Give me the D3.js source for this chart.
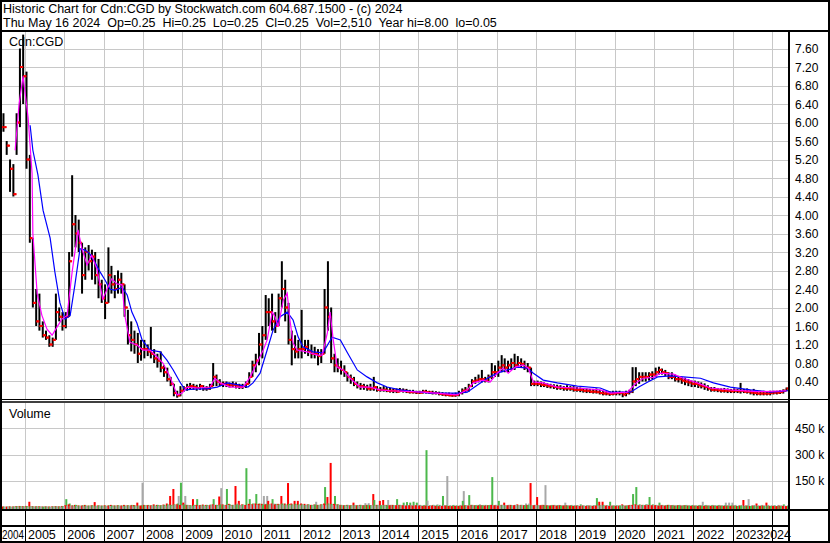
<!DOCTYPE html>
<html>
<head>
<meta charset="utf-8">
<script src="https://cdn.jsdelivr.net/npm/d3@7"></script>
<style>
  body { margin: 0; background: #fff; }
  svg { display: block; font-family: Arial, "Liberation Sans", sans-serif; }
</style>
</head>
<body>
<script>
// monthly bars, first one is June 2004, last one is May 2024
const firstMonth = [2004, 5];

const highs = [
  6.2, 5.6, 5.2, 5.1, 6.2, 7.6, 7.9,                                // 2004
  7.1, 5.3, 3.5, 2.4, 2.3, 1.7, 1.5, 1.4, 1.35, 2.3, 2.0, 1.9,        // 2005
  1.9, 3.2, 4.86, 4.0, 3.9, 3.4, 3.3, 3.35, 3.25, 3.2, 3.05, 2.6,     // 2006
  2.5, 3.3, 2.9, 2.7, 2.8, 2.75, 2.5, 1.95, 1.7, 1.5, 1.45, 1.3,      // 2007
  1.3, 1.2, 1.58, 1.1, 1.0, 1.05, 0.75, 0.7, 0.5, 0.35, 0.2, 0.3,     // 2008
  0.3, 0.35, 0.37, 0.35, 0.33, 0.35, 0.32, 0.3, 0.35, 0.8, 0.55, 0.45,// 2009
  0.4, 0.4, 0.38, 0.4, 0.38, 0.35, 0.35, 0.4, 0.6, 0.85, 1.0, 1.45,   // 2010
  1.6, 2.27, 2.2, 2.3, 1.9, 2.3, 3.0, 2.6, 2.1, 1.5, 1.4, 1.3,        // 2011
  1.95, 1.3, 1.3, 1.2, 1.15, 1.1, 1.1, 2.4, 3.0, 2.0, 1.0, 0.9,       // 2012
  0.85, 0.75, 0.6, 0.55, 0.5, 0.4, 0.37, 0.35, 0.33, 0.35, 0.5, 0.3,  // 2013
  0.28, 0.3, 0.28, 0.26, 0.25, 0.25, 0.26, 0.25, 0.24, 0.22, 0.22, 0.2, // 2014
  0.2, 0.22, 0.22, 0.2, 0.2, 0.19, 0.18, 0.17, 0.16, 0.16, 0.15, 0.16,  // 2015
  0.2, 0.25, 0.28, 0.35, 0.45, 0.5, 0.55, 0.65, 0.5, 0.55, 0.8, 0.75,   // 2016
  0.85, 0.97, 0.9, 0.85, 0.9, 1.0, 0.95, 0.9, 0.85, 0.8, 0.7, 0.42,     // 2017
  0.42, 0.4, 0.38, 0.36, 0.35, 0.34, 0.33, 0.32, 0.3, 0.32, 0.3, 0.3,   // 2018
  0.28, 0.27, 0.26, 0.25, 0.24, 0.24, 0.25, 0.22, 0.2, 0.2, 0.19, 0.2,  // 2019
  0.2, 0.2, 0.18, 0.2, 0.22, 0.71, 0.71, 0.6, 0.6, 0.6, 0.6, 0.62,      // 2020
  0.7, 0.72, 0.68, 0.65, 0.6, 0.6, 0.55, 0.52, 0.5, 0.48, 0.45, 0.42,   // 2021
  0.42, 0.4, 0.38, 0.36, 0.32, 0.28, 0.28, 0.26, 0.25, 0.26, 0.25, 0.24,// 2022
  0.25, 0.24, 0.37, 0.24, 0.25, 0.22, 0.24, 0.2, 0.2, 0.2, 0.19, 0.2,   // 2023
  0.2, 0.2, 0.21, 0.23, 0.27                                            // 2024
];

const lows = [
  5.8, 5.3, 4.5, 4.4, 5.3, 5.9, 6.4,
  5.0, 3.4, 2.0, 1.6, 1.5, 1.35, 1.3, 1.15, 1.15, 1.3, 1.7, 1.5,
  1.55, 1.8, 3.1, 3.3, 3.2, 2.3, 2.6, 2.8, 2.6, 2.5, 2.2, 2.1,
  1.75, 2.1, 2.3, 2.2, 2.3, 2.3, 1.8, 1.2, 1.05, 1.0, 0.8, 0.85,
  0.9, 0.95, 0.9, 0.8, 0.7, 0.6, 0.5, 0.4, 0.3, 0.08, 0.05, 0.08,
  0.18, 0.2, 0.22, 0.22, 0.2, 0.22, 0.2, 0.2, 0.22, 0.3, 0.3, 0.3,
  0.28, 0.28, 0.27, 0.28, 0.25, 0.24, 0.24, 0.26, 0.35, 0.5, 0.6, 0.75,
  0.9, 1.3, 1.6, 1.5, 1.45, 1.6, 2.0, 1.7, 1.2, 0.75, 0.9, 0.9,
  0.9, 1.0, 0.95, 0.9, 0.9, 0.75, 0.8, 1.0, 1.5, 0.8, 0.6, 0.6,
  0.55, 0.5, 0.4, 0.35, 0.3, 0.25, 0.22, 0.22, 0.2, 0.2, 0.2, 0.18,
  0.18, 0.18, 0.17, 0.16, 0.15, 0.15, 0.17, 0.16, 0.15, 0.14, 0.14, 0.13,
  0.13, 0.14, 0.14, 0.13, 0.12, 0.12, 0.1, 0.09, 0.08, 0.08, 0.07, 0.07,
  0.08, 0.12, 0.15, 0.18, 0.28, 0.35, 0.38, 0.38, 0.38, 0.38, 0.45, 0.5,
  0.5, 0.6, 0.6, 0.6, 0.65, 0.65, 0.7, 0.7, 0.65, 0.6, 0.3, 0.3,
  0.3, 0.28, 0.28, 0.26, 0.25, 0.24, 0.22, 0.22, 0.2, 0.2, 0.2, 0.18,
  0.18, 0.17, 0.16, 0.15, 0.15, 0.14, 0.14, 0.12, 0.1, 0.1, 0.09, 0.1,
  0.1, 0.1, 0.06, 0.08, 0.12, 0.15, 0.3, 0.35, 0.4, 0.4, 0.42, 0.45,
  0.5, 0.55, 0.55, 0.52, 0.45, 0.45, 0.4, 0.38, 0.35, 0.32, 0.3, 0.28,
  0.28, 0.26, 0.25, 0.22, 0.2, 0.18, 0.18, 0.17, 0.16, 0.16, 0.15, 0.15,
  0.15, 0.15, 0.14, 0.15, 0.14, 0.12, 0.1, 0.1, 0.1, 0.1, 0.1, 0.1,
  0.12, 0.12, 0.13, 0.14, 0.2
];

const closes = [
  5.9, 5.5, 5.0, 4.45, 6.0, 7.2, 7.0,
  5.2, 3.5, 2.1, 1.7, 1.6, 1.4, 1.35, 1.2, 1.3, 1.9, 1.8, 1.6,
  1.8, 3.0, 3.8, 3.6, 3.4, 2.7, 3.2, 3.0, 3.1, 2.7, 2.5, 2.2,
  2.1, 2.7, 2.5, 2.4, 2.6, 2.5, 2.0, 1.4, 1.3, 1.2, 1.0, 1.1,
  1.1, 1.05, 1.0, 0.9, 0.85, 0.7, 0.6, 0.45, 0.35, 0.15, 0.1, 0.2,
  0.25, 0.28, 0.3, 0.28, 0.26, 0.3, 0.25, 0.25, 0.3, 0.5, 0.4, 0.35,
  0.35, 0.33, 0.32, 0.33, 0.3, 0.28, 0.3, 0.35, 0.5, 0.75, 0.85, 1.2,
  1.4, 1.9, 1.9, 1.7, 1.6, 2.2, 2.4, 2.0, 1.3, 1.1, 1.05, 1.1,
  1.1, 1.15, 1.05, 1.0, 1.0, 0.95, 1.0, 2.0, 1.8, 0.9, 0.75, 0.7,
  0.65, 0.6, 0.5, 0.45, 0.35, 0.3, 0.3, 0.28, 0.25, 0.25, 0.28, 0.22,
  0.22, 0.22, 0.2, 0.2, 0.2, 0.18, 0.2, 0.2, 0.18, 0.17, 0.17, 0.16,
  0.16, 0.18, 0.17, 0.16, 0.15, 0.15, 0.13, 0.12, 0.11, 0.1, 0.1, 0.11,
  0.15, 0.2, 0.22, 0.3, 0.4, 0.42, 0.45, 0.45, 0.42, 0.5, 0.6, 0.6,
  0.7, 0.75, 0.7, 0.75, 0.8, 0.75, 0.8, 0.78, 0.7, 0.7, 0.35, 0.35,
  0.35, 0.33, 0.32, 0.3, 0.3, 0.28, 0.27, 0.26, 0.25, 0.25, 0.24, 0.22,
  0.22, 0.22, 0.2, 0.2, 0.18, 0.18, 0.17, 0.15, 0.14, 0.14, 0.13, 0.14,
  0.15, 0.15, 0.12, 0.15, 0.18, 0.4, 0.45, 0.5, 0.5, 0.5, 0.55, 0.55,
  0.6, 0.65, 0.6, 0.58, 0.5, 0.5, 0.45, 0.45, 0.42, 0.4, 0.38, 0.35,
  0.35, 0.32, 0.3, 0.28, 0.25, 0.22, 0.22, 0.21, 0.2, 0.2, 0.2, 0.19,
  0.2, 0.19, 0.2, 0.18, 0.18, 0.16, 0.15, 0.14, 0.14, 0.14, 0.14, 0.15,
  0.16, 0.16, 0.17, 0.2, 0.25
];

// volume in thousands, split by day type (down / up / unchanged)
const volDown = [
  3, 2, 4, 3, 5, 6, 5,
  6, 30, 5, 4, 4, 3, 4, 3, 4, 5, 4, 6,
  10, 15, 8, 12, 9, 8, 12, 8, 10, 28, 9, 8,
  10, 8, 12, 9, 10, 8, 12, 10, 9, 11, 25, 8,
  12, 10, 9, 15, 12, 10, 14, 20, 63, 103, 15, 12,
  25, 12, 10, 45, 12, 10, 14, 12, 10, 15, 12, 60,
  15, 12, 18, 12, 120, 35, 15, 12, 18, 15, 20, 18,
  18, 15, 35, 20, 15, 18, 63, 20, 137, 20, 35, 35,
  20, 18, 15, 12, 14, 12, 15, 20, 57, 252, 18, 15,
  12, 10, 12, 10, 25, 10, 12, 10, 12, 10, 74, 12,
  35, 40, 12, 10, 12, 10, 12, 10, 8, 10, 8, 10,
  8, 6, 8, 6, 8, 6, 5, 6, 8, 6, 5, 6,
  6, 8, 10, 8, 12, 10, 8, 10, 8, 10, 12, 10,
  8, 12, 25, 10, 12, 10, 15, 12, 10, 12, 137, 10,
  57, 10, 12, 10, 8, 10, 8, 10, 8, 10, 8, 6,
  8, 6, 8, 6, 8, 6, 8, 30, 30, 8, 6, 8,
  6, 8, 15, 8, 10, 12, 15, 10, 12, 10, 12, 10,
  10, 8, 10, 8, 12, 10, 8, 10, 8, 10, 8, 6,
  8, 6, 8, 6, 8, 6, 8, 6, 8, 6, 8, 6,
  8, 6, 8, 40, 8, 6, 8, 20, 6, 8, 25, 6,
  6, 5, 8, 6, 5
];

const volUp = [
  2, 3, 2, 3, 4, 5, 4,
  5, 4, 3, 4, 3, 2, 3, 2, 3, 4, 3, 5,
  45, 20, 10, 12, 8, 10, 9, 8, 10, 8, 9, 8,
  8, 10, 9, 8, 10, 9, 8, 10, 12, 9, 8, 10,
  10, 12, 10, 9, 12, 10, 12, 15, 12, 15, 20, 139,
  15, 12, 10, 12, 45, 12, 10, 12, 14, 45, 12, 15,
  12, 103, 15, 12, 15, 12, 14, 222, 45, 20, 74, 20,
  15, 18, 15, 45, 18, 15, 20, 15, 18, 15, 18, 15,
  15, 12, 15, 12, 14, 12, 15, 114, 20, 18, 63, 15,
  12, 10, 12, 10, 12, 10, 12, 10, 12, 10, 40, 12,
  10, 12, 10, 12, 10, 45, 12, 25, 28, 25, 30, 25,
  12, 10, 325, 10, 12, 10, 12, 63, 10, 8, 10, 8,
  8, 35, 10, 68, 12, 10, 12, 10, 12, 10, 171, 12,
  35, 12, 10, 12, 10, 12, 10, 12, 10, 12, 10, 12,
  10, 12, 10, 8, 10, 12, 10, 8, 10, 8, 10, 8,
  10, 15, 8, 10, 8, 10, 51, 10, 12, 10, 30, 8,
  10, 8, 10, 8, 12, 74, 114, 15, 12, 15, 57, 15,
  12, 25, 12, 10, 12, 10, 8, 10, 8, 10, 8, 10,
  8, 10, 8, 10, 8, 10, 8, 10, 8, 10, 8, 10,
  8, 6, 8, 6, 8, 6, 8, 6, 8, 6, 8, 6,
  8, 6, 5, 15, 6
];

const volFlat = [
  1, 2, 1, 2, 1, 2, 3,
  2, 3, 2, 1, 2, 3, 2, 1, 2, 3, 2, 4,
  5, 6, 4, 5, 6, 4, 5, 6, 4, 5, 6, 4,
  5, 6, 4, 5, 6, 4, 5, 6, 4, 5, 8, 139,
  6, 5, 8, 6, 5, 8, 6, 10, 8, 12, 63, 10,
  63, 8, 6, 8, 6, 8, 6, 8, 10, 12, 8, 108,
  10, 12, 8, 12, 20, 10, 12, 10, 12, 15, 12, 10,
  63, 63, 15, 20, 12, 15, 12, 10, 12, 10, 12, 10,
  12, 10, 12, 10, 30, 10, 12, 10, 15, 12, 10, 12,
  10, 8, 10, 8, 10, 8, 10, 22, 22, 10, 8, 10,
  12, 10, 40, 12, 10, 12, 10, 12, 10, 12, 10, 12,
  10, 12, 36, 10, 12, 15, 10, 12, 177, 10, 12, 10,
  12, 91, 10, 12, 10, 12, 15, 12, 10, 12, 10, 12,
  10, 12, 10, 12, 10, 12, 10, 12, 20, 20, 10, 12,
  10, 12, 125, 10, 12, 10, 12, 10, 25, 10, 12, 10,
  8, 10, 8, 10, 8, 10, 8, 10, 8, 10, 8, 10,
  8, 10, 8, 10, 8, 10, 12, 10, 12, 15, 10, 12,
  10, 12, 10, 12, 10, 12, 10, 12, 10, 12, 10, 12,
  10, 12, 30, 12, 10, 12, 10, 12, 10, 25, 25, 25,
  12, 10, 12, 10, 45, 10, 12, 10, 12, 10, 12, 10,
  10, 12, 10, 8, 10
];

// moving averages: [decimal year, price]
const maShort = [
  [2004.75, 5.4], [2004.85, 6.4], [2004.95, 7.0], [2005.08, 6.1], [2005.18, 4.9],
  [2005.20, 3.6], [2005.31, 2.3], [2005.43, 1.83], [2005.56, 1.53], [2005.69, 1.4],
  [2005.81, 1.57], [2005.94, 1.75], [2006.07, 1.83], [2006.20, 2.77], [2006.35, 3.68],
  [2006.45, 3.27], [2006.58, 2.92], [2006.70, 3.13], [2006.83, 2.83], [2006.98, 2.18],
  [2007.09, 2.4], [2007.21, 2.62], [2007.34, 2.51], [2007.47, 2.49], [2007.54, 1.83],
  [2007.67, 1.25], [2007.85, 1.19], [2008.00, 1.08], [2008.18, 1.08], [2008.36, 0.93],
  [2008.51, 0.8], [2008.69, 0.5], [2008.87, 0.11], [2009.00, 0.15], [2009.12, 0.28],
  [2009.38, 0.26], [2009.71, 0.28], [2009.83, 0.47], [2009.96, 0.37], [2010.22, 0.28],
  [2010.55, 0.28], [2010.73, 0.5], [2010.90, 0.8], [2011.06, 1.08], [2011.16, 1.3],
  [2011.29, 1.9], [2011.36, 1.8], [2011.44, 1.58], [2011.57, 2.16], [2011.67, 2.31],
  [2011.74, 1.73], [2011.82, 1.23], [2011.92, 1.08], [2012.18, 1.04], [2012.43, 0.97],
  [2012.56, 0.97], [2012.69, 1.45], [2012.76, 1.9], [2012.84, 1.3], [2012.94, 0.71],
  [2013.09, 0.65], [2013.27, 0.47], [2013.52, 0.28], [2013.78, 0.28], [2014.03, 0.22],
  [2014.29, 0.2], [2015.13, 0.17], [2015.99, 0.11], [2016.25, 0.22], [2016.40, 0.37],
  [2016.65, 0.43], [2016.83, 0.39], [2017.01, 0.58], [2017.16, 0.69], [2017.29, 0.58],
  [2017.47, 0.71], [2017.67, 0.76], [2017.80, 0.69], [2017.93, 0.39], [2018.18, 0.37],
  [2018.54, 0.28], [2019.05, 0.26], [2019.63, 0.22], [2019.89, 0.15], [2020.32, 0.17],
  [2020.57, 0.39], [2020.73, 0.47], [2020.98, 0.49], [2021.16, 0.58], [2021.49, 0.56],
  [2021.74, 0.47], [2022.10, 0.37], [2022.43, 0.26], [2022.94, 0.22], [2023.63, 0.18],
  [2024.36, 0.2]
];

const maLong = [
  [2005.13, 5.94], [2005.20, 5.4], [2005.33, 4.86], [2005.46, 4.1], [2005.64, 3.5],
  [2005.76, 2.77], [2005.89, 2.1], [2006.02, 1.75], [2006.15, 1.83], [2006.27, 2.49],
  [2006.40, 3.27], [2006.53, 3.24], [2006.65, 3.16], [2006.78, 2.98], [2006.91, 2.77],
  [2007.04, 2.59], [2007.16, 2.4], [2007.29, 2.37], [2007.47, 2.44], [2007.60, 2.27],
  [2007.72, 1.9], [2007.85, 1.66], [2007.98, 1.3], [2008.18, 1.08], [2008.44, 1.04],
  [2008.61, 0.86], [2008.77, 0.65], [2008.94, 0.39], [2009.07, 0.22], [2009.38, 0.24],
  [2009.63, 0.24], [2009.89, 0.28], [2010.14, 0.37], [2010.47, 0.32], [2010.67, 0.28],
  [2010.80, 0.37], [2010.98, 0.58], [2011.16, 1.08], [2011.31, 1.51], [2011.49, 1.8],
  [2011.67, 1.9], [2011.82, 1.73], [2011.95, 1.36], [2012.07, 1.15], [2012.33, 1.04],
  [2012.58, 1.02], [2012.81, 1.36], [2013.02, 1.3], [2013.20, 1.02], [2013.45, 0.65],
  [2013.70, 0.5], [2013.96, 0.37], [2014.21, 0.28], [2014.54, 0.22], [2014.80, 0.19],
  [2015.31, 0.15], [2015.99, 0.15], [2016.25, 0.17], [2016.50, 0.32], [2016.76, 0.47],
  [2017.01, 0.58], [2017.27, 0.65], [2017.52, 0.71], [2017.78, 0.69], [2017.93, 0.58],
  [2018.18, 0.43], [2018.54, 0.37], [2019.05, 0.3], [2019.63, 0.26], [2019.89, 0.17],
  [2020.40, 0.17], [2020.61, 0.28], [2020.84, 0.39], [2021.09, 0.5], [2021.42, 0.52],
  [2021.74, 0.5], [2022.18, 0.47], [2022.51, 0.37], [2022.94, 0.28], [2023.45, 0.22],
  [2023.96, 0.17], [2024.41, 0.2]
];

const years = d3.range(2004, 2025);
const priceTicks = [0.4, 0.8, 1.2, 1.6, 2.0, 2.4, 2.8, 3.2, 3.6, 4.0, 4.4, 4.8, 5.2, 5.6, 6.0, 6.4, 6.8, 7.2, 7.6];
const volTicks = [150, 300, 450];

const title1 = "Historic Chart for Cdn:CGD by Stockwatch.com 604.687.1500 - (c) 2024";
const title2 = "Thu May 16 2024  Op=0.25  Hi=0.25  Lo=0.25  Cl=0.25  Vol=2,510  Year hi=8.00  lo=0.05";

const W = 830, H = 543;
const left = 2, right = 788;
const pTop = 32, pBot = 400;
const vTop = 403, vBot = 509;

const monthDate = i => new Date(firstMonth[0], firstMonth[1] + i, 1);
const decYear = v => {
  const y = Math.floor(v);
  const a = new Date(y, 0, 1), b = new Date(y + 1, 0, 1);
  return new Date(+a + (v - y) * (b - a));
};

const x = d3.scaleTime()
  .domain([new Date(2005, 0, 1), new Date(2024, 0, 1)])
  .range([25, 772]);
const y = d3.scaleLinear().domain([0, 7.6]).range([400, 48.5]);
const vy = d3.scaleLinear().domain([0, 450]).range([507, 428.3]);

const svg = d3.select("body").append("svg")
  .attr("width", W).attr("height", H);

svg.append("rect").attr("width", W).attr("height", H).attr("fill", "#fff");

// header
svg.append("text").attr("x", 3).attr("y", 13)
  .attr("font-size", 12.5).attr("fill", "#000").text(title1);
svg.append("text").attr("x", 3).attr("y", 27)
  .attr("font-size", 12.5).attr("fill", "#000")
  .style("white-space", "pre").text(title2);

// grid
const grid = svg.append("g").attr("stroke", "#c8c8c8").attr("stroke-width", 1);
const yearX = years.slice(1).map(yr => Math.round(x(new Date(yr, 0, 1))) + 0.5);

grid.selectAll(".vp").data(yearX).enter().append("line")
  .attr("x1", d => d).attr("x2", d => d).attr("y1", pTop).attr("y2", pBot);
grid.selectAll(".hp").data(priceTicks).enter().append("line")
  .attr("x1", left).attr("x2", right)
  .attr("y1", d => Math.round(y(d)) + 0.5).attr("y2", d => Math.round(y(d)) + 0.5);
grid.selectAll(".vv").data(yearX).enter().append("line")
  .attr("x1", d => d).attr("x2", d => d).attr("y1", vTop).attr("y2", vBot);
grid.selectAll(".hv").data(volTicks).enter().append("line")
  .attr("x1", left).attr("x2", right)
  .attr("y1", d => Math.round(vy(d)) + 0.5).attr("y2", d => Math.round(vy(d)) + 0.5);

// panel labels
svg.append("text").attr("x", 9).attr("y", 46).attr("font-size", 12.5).text("Cdn:CGD");
svg.append("text").attr("x", 9).attr("y", 418).attr("font-size", 12.5).text("Volume");

// price bars
const bars = highs.map((h, i) => ({
  date: monthDate(i), h: h, l: lows[i], c: closes[i], o: i ? closes[i - 1] : closes[i]
}));

const pg = svg.append("g");
pg.selectAll(".hl").data(bars).enter().append("rect")
  .attr("x", d => x(d.date) + 0.5)
  .attr("width", 2)
  .attr("y", d => y(d.h))
  .attr("height", d => Math.max(1, y(d.l) - y(d.h)))
  .attr("fill", "#000");
pg.selectAll(".op").data(bars).enter().append("rect")
  .attr("x", d => x(d.date) - 1)
  .attr("width", 2.5)
  .attr("y", d => y(d.o) - 1)
  .attr("height", 2)
  .attr("fill", "#ff0000");
pg.selectAll(".cl").data(bars).enter().append("rect")
  .attr("x", d => x(d.date) + 1.5)
  .attr("width", 2.5)
  .attr("y", d => y(d.c) - 1)
  .attr("height", 2)
  .attr("fill", "#ff0000");

// moving averages
const maLine = d3.line().x(d => x(decYear(d[0]))).y(d => y(d[1]));
svg.append("path").datum(maLong).attr("d", maLine)
  .attr("fill", "none").attr("stroke", "#0000ff").attr("stroke-width", 1.2);
svg.append("path").datum(maShort).attr("d", maLine)
  .attr("fill", "none").attr("stroke", "#ff00ff").attr("stroke-width", 1.2);

// volume bars
const volColors = ["#ff0000", "#4cb84c", "#a8a8a8"];
const volBars = [];
highs.forEach((h, i) => {
  [volDown[i], volUp[i], volFlat[i]].forEach((v, k) => {
    volBars.push({ date: monthDate(i), v: v, k: k });
  });
});
volBars.sort((a, b) => b.v - a.v);

svg.append("g").selectAll("rect").data(volBars).enter().append("rect")
  .attr("x", d => x(d.date) + d.k)
  .attr("width", 2)
  .attr("y", d => vy(d.v))
  .attr("height", d => vBot - vy(d.v))
  .attr("fill", d => volColors[d.k]);

// frame lines
const frame = svg.append("g").attr("stroke", "#000").attr("fill", "none");
frame.append("rect").attr("x", 1).attr("y", 1).attr("width", W - 2).attr("height", H - 2).attr("stroke-width", 2);
frame.append("line").attr("x1", 0).attr("x2", W).attr("y1", 31).attr("y2", 31).attr("stroke-width", 2);
frame.append("line").attr("x1", 0).attr("x2", W).attr("y1", 399.5).attr("y2", 399.5);
frame.append("line").attr("x1", 0).attr("x2", right).attr("y1", 402).attr("y2", 402).attr("stroke-width", 1.5);
frame.append("line").attr("x1", right + 1).attr("x2", right + 1).attr("y1", 31).attr("y2", 541).attr("stroke-width", 2);
frame.append("line").attr("x1", 0).attr("x2", W).attr("y1", 510).attr("y2", 510).attr("stroke-width", 2);
frame.append("line").attr("x1", 0).attr("x2", right).attr("y1", 526).attr("y2", 526).attr("stroke-width", 2);

// year separators and labels
frame.selectAll(".ys").data(yearX).enter().append("line")
  .attr("x1", d => d).attr("x2", d => d).attr("y1", 511).attr("y2", 541)
  .attr("stroke-width", 1);

const first = years[0], last = years[years.length - 1];
svg.append("g").selectAll("text").data(years).enter().append("text")
  .attr("x", yr => {
    if (yr === first) return 2;
    if (yr === last) return right + 3;
    return x(new Date(yr, 0, 1)) + 3;
  })
  .attr("text-anchor", yr => yr === last ? "end" : "start")
  .attr("textLength", yr => yr === first ? 22 : null)
  .attr("lengthAdjust", "spacingAndGlyphs")
  .attr("y", 539)
  .attr("font-size", 12.5)
  .text(d => d);

// right axis labels
svg.append("g").selectAll("text").data(priceTicks).enter().append("text")
  .attr("x", 795).attr("y", d => y(d) + 4.5)
  .attr("font-size", 12)
  .text(d => d.toFixed(2));
svg.append("g").selectAll("text").data(volTicks).enter().append("text")
  .attr("x", 795).attr("y", d => vy(d) + 4.5)
  .attr("font-size", 12)
  .text(d => d + " k");
</script>
</body>
</html>
